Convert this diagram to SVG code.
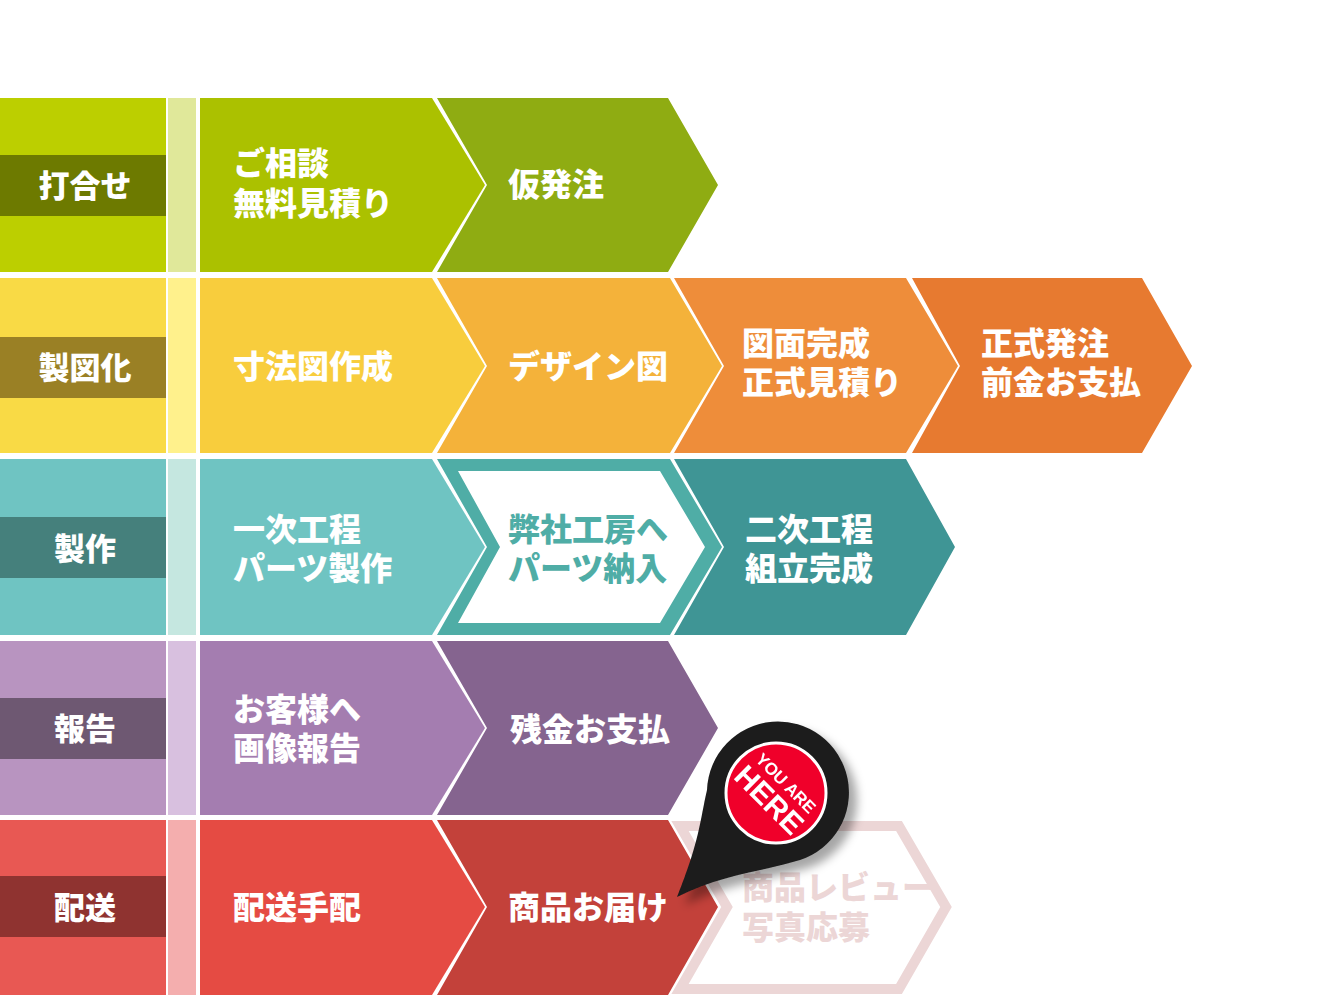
<svg xmlns="http://www.w3.org/2000/svg" width="1320" height="1000" viewBox="0 0 1320 1000">
<style>
.t{font-family:"Noto Sans CJK JP","Noto Sans",sans-serif;font-weight:900;font-size:32px;fill:#fff}
.tag{font-family:"Noto Sans CJK JP","Noto Sans",sans-serif;font-weight:900;font-size:31px;fill:#fff;text-anchor:middle}
</style>
<defs>
<filter id="sh" x="-30%" y="-30%" width="160%" height="160%"><feDropShadow dx="8" dy="8" stdDeviation="5" flood-color="#000" flood-opacity="0.35"/></filter>
</defs>
<rect width="1320" height="1000" fill="#fff"/>
<g id="row1">
<rect x="0" y="98" width="166" height="174" fill="#bccf00"/><rect x="168" y="98" width="28" height="174" fill="#e0e89a"/>
<rect x="0" y="155" width="166" height="61" fill="#6d7a00"/><text class="tag" x="85" y="197">打合せ</text>
<path d="M200,98H432L485,185L432,272H200Z" fill="#abc100"/>
<path d="M437,98H668L718,185L668,272H437L487,185Z" fill="#8fac12"/>
<text class="t" x="233" y="175">ご相談</text><text class="t" x="233" y="215">無料見積り</text>
<text class="t" x="508" y="196">仮発注</text>
</g>
<g id="row2">
<rect x="0" y="278" width="166" height="175" fill="#f9da45"/><rect x="168" y="278" width="28" height="175" fill="#fff18c"/>
<rect x="0" y="337" width="166" height="61" fill="#9a8025"/><text class="tag" x="85" y="379">製図化</text>
<path d="M200,278H432L485,366L432,453H200Z" fill="#f8cd3d"/>
<path d="M437,278H670L722,366L670,453H437L487,366Z" fill="#f4b23a"/>
<path d="M674,278H906L958,366L906,453H674L724,366Z" fill="#ee8d3a"/>
<path d="M912,278H1142L1192,366L1142,453H912L960,366Z" fill="#e77a30"/>
<text class="t" x="233" y="378">寸法図作成</text>
<text class="t" x="508" y="378">デザイン図</text>
<text class="t" x="742" y="355">図面完成</text><text class="t" x="742" y="394">正式見積り</text>
<text class="t" x="981" y="355">正式発注</text><text class="t" x="981" y="394">前金お支払</text>
</g>
<g id="row3">
<rect x="0" y="459" width="166" height="176" fill="#6fc4c2"/><rect x="168" y="459" width="28" height="176" fill="#c5e7e0"/>
<rect x="0" y="517" width="166" height="61" fill="#45807c"/><text class="tag" x="85" y="560">製作</text>
<path d="M200,459H432L485,547L432,635H200Z" fill="#6fc4c2"/>
<path d="M437,459H670L722,547L670,635H437L487,547Z" fill="#4fada6"/>
<path d="M458,471H660L705,547L660,623H458L500,547Z" fill="#fff"/>
<path d="M674,459H906L955,547L906,635H674L724,547Z" fill="#3f9595"/>
<text class="t" x="233" y="541">一次工程</text><text class="t" x="233" y="580">パーツ製作</text>
<text class="t" x="508" y="541" style="fill:#4fada6">弊社工房へ</text><text class="t" x="508" y="580" style="fill:#4fada6">パーツ納入</text>
<text class="t" x="745" y="541">二次工程</text><text class="t" x="745" y="580">組立完成</text>
</g>
<g id="row4">
<rect x="0" y="641" width="166" height="174" fill="#b894c0"/><rect x="168" y="641" width="28" height="174" fill="#d8c0df"/>
<rect x="0" y="698" width="166" height="61" fill="#6e5872"/><text class="tag" x="85" y="740">報告</text>
<path d="M200,641H432L485,728L432,815H200Z" fill="#a47db0"/>
<path d="M437,641H668L718,728L668,815H437L487,728Z" fill="#85648f"/>
<text class="t" x="233" y="721">お客様へ</text><text class="t" x="233" y="760">画像報告</text>
<text class="t" x="510" y="741">残金お支払</text>
</g>
<g id="row5">
<rect x="0" y="820" width="166" height="175" fill="#e85853"/><rect x="168" y="820" width="28" height="175" fill="#f4aeae"/>
<rect x="0" y="876" width="166" height="61" fill="#8f3330"/><text class="tag" x="85" y="919">配送</text>
<path d="M200,820H432L485,907L432,995H200Z" fill="#e54b43"/>
<path d="M437,820H668L718,907L668,995H437L487,907Z" fill="#c3413a"/>
<path d="M680,826H899L946,907L899,989H680L727,907Z" fill="none" stroke="#ecd6d6" stroke-width="10"/>
<text class="t" x="233" y="919">配送手配</text>
<text class="t" x="508" y="919">商品お届け</text>
<text class="t" x="742" y="899" style="fill:#ecd6d6">商品レビュー</text><text class="t" x="742" y="939" style="fill:#ecd6d6">写真応募</text>
</g>
<g id="pin" filter="url(#sh)">
<path d="M677,897C700,840 700,820 707,790A71,71 0 1 1 800,860C760,872 720,875 677,897Z" fill="#1c1c1c"/>
<circle cx="776" cy="793" r="50" fill="#f0002c" stroke="#fff" stroke-width="3"/>
<g transform="translate(776,793) rotate(45)" font-family="'Liberation Sans',sans-serif" font-weight="bold" fill="#fff" text-anchor="middle">
<text x="0" y="-8" font-size="17">YOU ARE</text><text x="0" y="20" font-size="30">HERE</text>
</g>
</g>
</svg>
